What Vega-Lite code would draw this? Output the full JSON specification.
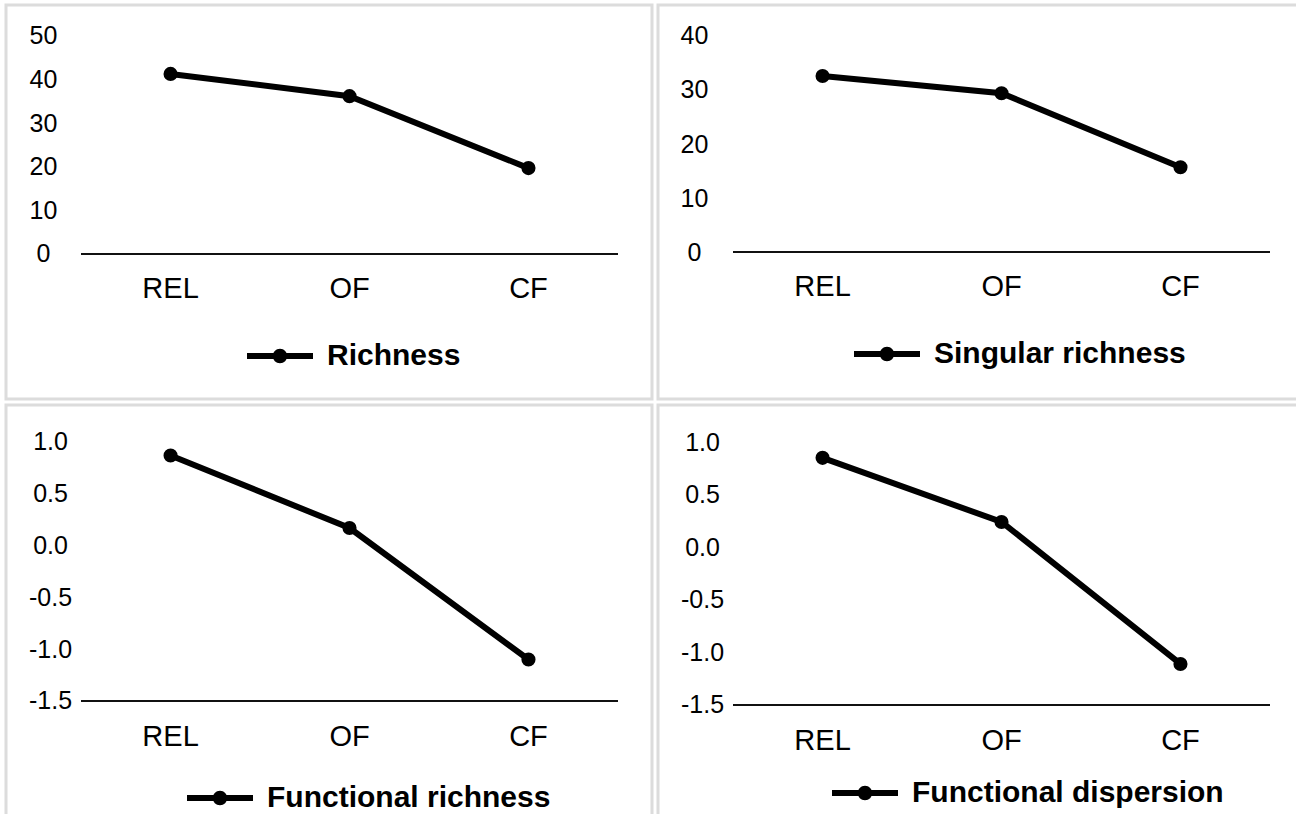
{
  "$schema": "https://vega.github.io/schema/vega-lite/v6.json",
  "background": "white",
  "padding": {"left": 4, "top": 3, "right": -8, "bottom": -9},
  "datasets": {
    "scores": [
      {"measure": "Richness", "site": "REL", "value": 41.3},
      {"measure": "Richness", "site": "OF", "value": 36.2},
      {"measure": "Richness", "site": "CF", "value": 19.7},
      {"measure": "Singular richness", "site": "REL", "value": 32.6},
      {"measure": "Singular richness", "site": "OF", "value": 29.4},
      {"measure": "Singular richness", "site": "CF", "value": 15.7},
      {"measure": "Functional richness", "site": "REL", "value": 0.87},
      {"measure": "Functional richness", "site": "OF", "value": 0.17},
      {"measure": "Functional richness", "site": "CF", "value": -1.1},
      {"measure": "Functional dispersion", "site": "REL", "value": 0.85},
      {"measure": "Functional dispersion", "site": "OF", "value": 0.24},
      {"measure": "Functional dispersion", "site": "CF", "value": -1.11}
    ]
  },
  "data": {"name": "scores"},
  "columns": 2,
  "spacing": 2,
  "concat": [
    {
      "width": 646,
      "height": 394,
      "transform": [{"filter": "datum.measure === 'Richness'"}],
      "encoding": {
        "x": {
          "field": "site", "type": "nominal",
          "scale": {"domain": ["REL", "OF", "CF"], "paddingInner": 0, "paddingOuter": 0.305, "align": 0.688},
          "axis": {"offset": -145, "labelPadding": 20}
        },
        "y": {
          "field": "value", "type": "quantitative",
          "scale": {"domain": [-33.26, 57.11], "nice": false, "zero": false},
          "axis": {"values": [0, 10, 20, 30, 40, 50], "offset": -37}
        }
      },
      "layer": [
        {
          "mark": {"type": "rule", "color": "#111", "strokeWidth": 2},
          "encoding": {
            "x": {"datum": "REL", "bandPosition": 0},
            "x2": {"datum": "CF", "bandPosition": 1},
            "y": {"datum": 0}
          }
        },
        {"mark": {"type": "line", "color": "black", "strokeWidth": 6}},
        {
          "mark": {"type": "point", "filled": true, "size": 200, "opacity": 1},
          "encoding": {
            "color": {"field": "measure", "type": "nominal", "scale": {"range": ["black"]}, "legend": {"legendX": 241, "legendY": 318}}
          }
        }
      ]
    },
    {
      "width": 646,
      "height": 394,
      "transform": [{"filter": "datum.measure === 'Singular richness'"}],
      "encoding": {
        "x": {
          "field": "site", "type": "nominal",
          "scale": {"domain": ["REL", "OF", "CF"], "paddingInner": 0, "paddingOuter": 0.305, "align": 0.688},
          "axis": {"offset": -147, "labelPadding": 20}
        },
        "y": {
          "field": "value", "type": "quantitative",
          "scale": {"domain": [-27.22, 45.74], "nice": false, "zero": false},
          "axis": {"values": [0, 10, 20, 30, 40], "offset": -36}
        }
      },
      "layer": [
        {
          "mark": {"type": "rule", "color": "#111", "strokeWidth": 2},
          "encoding": {
            "x": {"datum": "REL", "bandPosition": 0},
            "x2": {"datum": "CF", "bandPosition": 1},
            "y": {"datum": 0}
          }
        },
        {"mark": {"type": "line", "color": "black", "strokeWidth": 6}},
        {
          "mark": {"type": "point", "filled": true, "size": 200, "opacity": 1},
          "encoding": {
            "color": {"field": "measure", "type": "nominal", "scale": {"range": ["black"]}, "legend": {"legendX": 196, "legendY": 316}}
          }
        }
      ]
    },
    {
      "width": 646,
      "height": 418,
      "transform": [{"filter": "datum.measure === 'Functional richness'"}],
      "encoding": {
        "x": {
          "field": "site", "type": "nominal",
          "scale": {"domain": ["REL", "OF", "CF"], "paddingInner": 0, "paddingOuter": 0.305, "align": 0.688},
          "axis": {"offset": -122, "labelPadding": 21}
        },
        "y": {
          "field": "value", "type": "quantitative",
          "scale": {"domain": [-2.678, 1.357], "nice": false, "zero": false},
          "axis": {"values": [-1.5, -1, -0.5, 0, 0.5, 1], "format": ".1f", "offset": -44}
        }
      },
      "layer": [
        {
          "mark": {"type": "rule", "color": "#111", "strokeWidth": 2},
          "encoding": {
            "x": {"datum": "REL", "bandPosition": 0},
            "x2": {"datum": "CF", "bandPosition": 1},
            "y": {"datum": -1.5}
          }
        },
        {"mark": {"type": "line", "color": "black", "strokeWidth": 6}},
        {
          "mark": {"type": "point", "filled": true, "size": 200, "opacity": 1},
          "encoding": {
            "color": {"field": "measure", "type": "nominal", "scale": {"range": ["black"]}, "legend": {"legendX": 181, "legendY": 360}}
          }
        }
      ]
    },
    {
      "width": 646,
      "height": 418,
      "transform": [{"filter": "datum.measure === 'Functional dispersion'"}],
      "encoding": {
        "x": {
          "field": "site", "type": "nominal",
          "scale": {"domain": ["REL", "OF", "CF"], "paddingInner": 0, "paddingOuter": 0.305, "align": 0.688},
          "axis": {"offset": -118, "labelPadding": 21}
        },
        "y": {
          "field": "value", "type": "quantitative",
          "scale": {"domain": [-2.622, 1.352], "nice": false, "zero": false},
          "axis": {"values": [-1.5, -1, -0.5, 0, 0.5, 1], "format": ".1f", "offset": -44}
        }
      },
      "layer": [
        {
          "mark": {"type": "rule", "color": "#111", "strokeWidth": 2},
          "encoding": {
            "x": {"datum": "REL", "bandPosition": 0},
            "x2": {"datum": "CF", "bandPosition": 1},
            "y": {"datum": -1.5}
          }
        },
        {"mark": {"type": "line", "color": "black", "strokeWidth": 6}},
        {
          "mark": {"type": "point", "filled": true, "size": 200, "opacity": 1},
          "encoding": {
            "color": {"field": "measure", "type": "nominal", "scale": {"range": ["black"]}, "legend": {"legendX": 174, "legendY": 355}}
          }
        }
      ]
    }
  ],
  "resolve": {
    "scale": {"x": "independent", "y": "independent", "color": "independent"},
    "axis": {"x": "independent", "y": "independent"},
    "legend": {"color": "independent"}
  },
  "config": {
    "font": "Liberation Sans",
    "locale": {
      "number": {"decimal": ".", "thousands": ",", "grouping": [3], "currency": ["$", ""], "minus": "-"}
    },
    "view": {"stroke": "#dcdcdc", "strokeWidth": 3},
    "axis": {
      "title": null,
      "domain": false,
      "ticks": false,
      "grid": false,
      "labelColor": "#000",
      "labelFont": "Liberation Sans"
    },
    "axisX": {"labelFontSize": 29, "labelAngle": 0},
    "axisY": {"labelFontSize": 25, "labelAlign": "center", "labelPadding": 0},
    "legend": {
      "orient": "none",
      "title": null,
      "padding": 0,
      "symbolType": "M-1,-0.09H1V0.09H-1Z M0.22,0A0.22,0.22 0 1 1 -0.22,0A0.22,0.22 0 1 1 0.22,0Z",
      "symbolSize": 4356,
      "symbolStrokeWidth": 0,
      "labelFont": "Liberation Sans",
      "labelFontSize": 30,
      "labelFontWeight": "bold",
      "labelColor": "#000",
      "labelOffset": 14,
      "labelLimit": 0
    }
  }
}
